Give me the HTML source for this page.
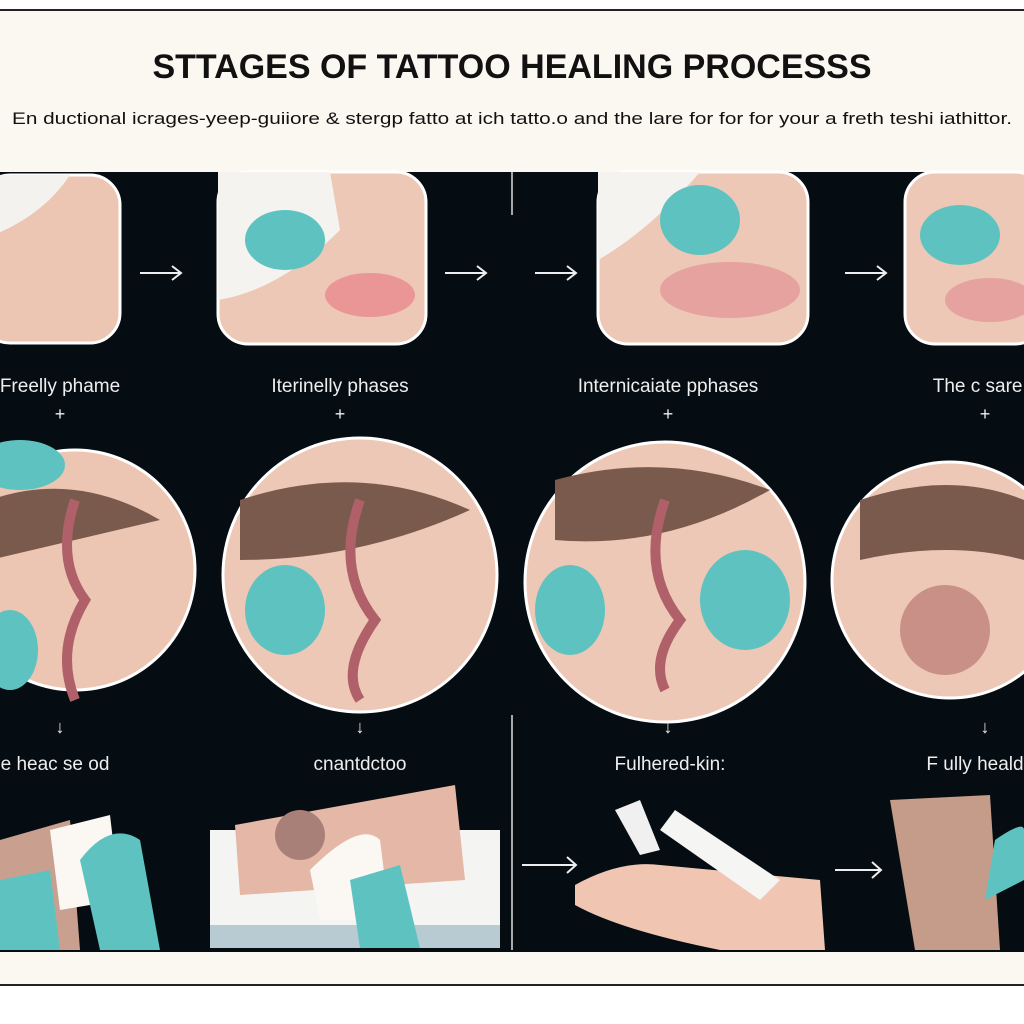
<!DOCTYPE html>
<html><head><meta charset="utf-8"><style>
html,body{margin:0;padding:0;width:1024px;height:1024px;overflow:hidden;background:#fff}
svg{display:block}
text{font-family:"Liberation Sans",sans-serif}
</style></head><body>
<svg width="1024" height="1024" viewBox="0 0 1024 1024" xmlns="http://www.w3.org/2000/svg">
<rect x="0" y="0" width="1024" height="1024" fill="#fff"/>
<rect x="0" y="10" width="1024" height="976" fill="#fbf8f1"/>
<line x1="0" y1="10" x2="1024" y2="10" stroke="#222" stroke-width="2"/>
<line x1="0" y1="985" x2="1024" y2="985" stroke="#222" stroke-width="2"/>
<text x="512" y="78" text-anchor="middle" font-size="34" font-weight="bold" fill="#111">STTAGES OF TATTOO HEALING PROCESSS</text>
<text x="512" y="124" text-anchor="middle" font-size="17" fill="#111" textLength="1000" lengthAdjust="spacingAndGlyphs">En ductional icrages-yeep-guiiore &amp; stergp fatto at ich tatto.o and the lare for for for your a freth teshi iathittor.</text>
<rect x="0" y="172" width="1024" height="780" fill="#050c12"/>
<line x1="512" y1="172" x2="512" y2="215" stroke="#ddd" stroke-width="1.5"/>
<line x1="512" y1="715" x2="512" y2="950" stroke="#ddd" stroke-width="1.5"/>
<!-- row1 panels -->
<rect x="-20" y="175" width="140" height="168" rx="30" fill="#edc5b3" stroke="#fff" stroke-width="3"/>
<path d="M-20 175 L70 175 Q40 220 -20 240Z" fill="#f4f2ee"/>
<rect x="218" y="172" width="208" height="172" rx="30" fill="#eec8b6" stroke="#fff" stroke-width="3"/>
<path d="M218 172 L330 172 L340 230 Q280 290 218 300Z" fill="#f5f3ef"/>
<ellipse cx="285" cy="240" rx="40" ry="30" fill="#5ec3c0"/>
<ellipse cx="370" cy="295" rx="45" ry="22" fill="#e8808a" opacity="0.7"/>
<rect x="598" y="172" width="210" height="172" rx="30" fill="#eec8b6" stroke="#fff" stroke-width="3"/>
<path d="M598 172 L700 172 Q650 230 598 260Z" fill="#f5f3ef"/>
<ellipse cx="700" cy="220" rx="40" ry="35" fill="#5ec3c0"/>
<ellipse cx="730" cy="290" rx="70" ry="28" fill="#e08890" opacity="0.6"/>
<rect x="905" y="172" width="140" height="172" rx="30" fill="#eec8b6" stroke="#fff" stroke-width="3"/>
<ellipse cx="960" cy="235" rx="40" ry="30" fill="#5ec3c0"/>
<ellipse cx="990" cy="300" rx="45" ry="22" fill="#e08890" opacity="0.6"/>
<g stroke="#eee" stroke-width="2" fill="none">
<path d="M140 273 H180 M172 266 L181 273 172 280"/>
<path d="M445 273 H485 M477 266 L486 273 477 280"/>
<path d="M535 273 H575 M567 266 L576 273 567 280"/>
<path d="M845 273 H885 M877 266 L886 273 877 280"/>
<path d="M835 870 H880 M872 862 L881 870 872 878"/>
<path d="M522 865 H575 M567 857 L576 865 567 873"/>
</g>
<g fill="#eee" font-size="19" text-anchor="middle">
<text x="60" y="392">Freelly phame</text>
<text x="340" y="392">Iterinelly phases</text>
<text x="668" y="392">Internicaiate pphases</text>
<text x="985" y="392">The c sare c</text>
<text x="55" y="770">e heac se od</text>
<text x="360" y="770">cnantdctoo</text>
<text x="670" y="770">Fulhered-kin:</text>
<text x="975" y="770">F ully heald</text>
</g>
<g fill="#eee" font-size="18" text-anchor="middle">
<text x="60" y="420">+</text><text x="340" y="420">+</text><text x="668" y="420">+</text><text x="985" y="420">+</text>
<text x="60" y="733">↓</text><text x="360" y="733">↓</text><text x="668" y="733">↓</text><text x="985" y="733">↓</text>
</g>
<!-- circles -->
<g stroke="#fff" stroke-width="3">
<circle cx="75" cy="570" r="120" fill="#edc5b3"/>
<circle cx="360" cy="575" r="137" fill="#eec8b6"/>
<circle cx="665" cy="582" r="140" fill="#eec8b6"/>
<circle cx="950" cy="580" r="118" fill="#eec8b6"/>
</g>
<g fill="#7a5a4c">
<path d="M-10 500 Q75 470 160 520 Q75 540 -10 560Z"/>
<path d="M240 500 Q360 460 470 510 Q360 560 240 560Z"/>
<path d="M555 480 Q665 450 770 490 Q665 550 555 540Z"/>
<path d="M860 500 Q950 470 1024 500 L1024 560 Q950 540 860 560Z"/>
</g>
<g fill="none" stroke="#b06068" stroke-width="10">
<path d="M75 500 Q55 560 85 600 Q55 650 75 700"/>
<path d="M360 500 Q335 570 375 620 Q340 670 360 700"/>
<path d="M665 500 Q640 570 680 620 Q650 660 665 690"/>
</g>
<circle cx="945" cy="630" r="45" fill="#c99087"/>
<ellipse cx="20" cy="465" rx="45" ry="25" fill="#5ec3c0"/>
<ellipse cx="10" cy="650" rx="28" ry="40" fill="#5ec3c0"/>
<ellipse cx="285" cy="610" rx="40" ry="45" fill="#5ec3c0"/>
<ellipse cx="570" cy="610" rx="35" ry="45" fill="#5ec3c0"/>
<ellipse cx="745" cy="600" rx="45" ry="50" fill="#5ec3c0"/>
<!-- bottom row -->
<path d="M0 840 L70 820 L80 950 L0 950Z" fill="#c9a08f"/>
<path d="M50 830 L110 815 L120 900 L60 910Z" fill="#fbf8f4"/>
<path d="M80 860 Q110 820 140 840 L160 950 L100 950Z" fill="#5ec3c0"/>
<path d="M0 880 L50 870 L60 950 L0 950Z" fill="#5ec3c0"/>
<rect x="210" y="830" width="290" height="118" fill="#f4f4f2"/>
<rect x="210" y="925" width="290" height="23" fill="#b8cbd3"/>
<path d="M235 825 L455 785 L465 880 L240 895Z" fill="#e5b7a6"/>
<circle cx="300" cy="835" r="25" fill="#a88078"/>
<path d="M310 870 Q360 820 380 840 L390 920 L320 920Z" fill="#fbf8f4"/>
<path d="M350 880 L400 865 L420 948 L360 948Z" fill="#5ec3c0"/>
<path d="M575 885 Q620 860 660 865 L820 880 L825 950 L720 950 Q620 930 575 905Z" fill="#f0c6b3"/>
<path d="M660 830 L675 810 L780 880 L760 900Z" fill="#f5f5f3"/>
<path d="M615 810 L640 800 L660 850 L640 855Z" fill="#f0f0f0"/>
<path d="M890 800 L990 795 L1000 950 L915 950Z" fill="#c59b8a"/>
<path d="M995 840 Q1024 820 1024 830 L1024 880 L985 900Z" fill="#5ec3c0"/>
</svg>
</body></html>
